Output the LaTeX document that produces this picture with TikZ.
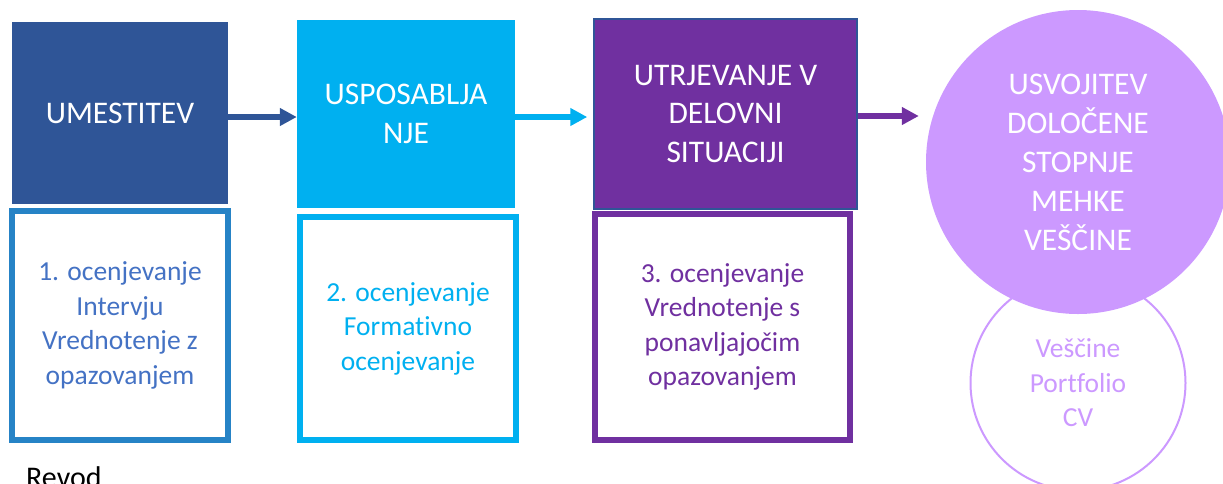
\documentclass[tikz,border=0pt]{standalone}
\usepackage{fontspec}
\setmainfont[Ligatures=NoCommon]{Carlito}
\usetikzlibrary{arrows.meta}
\definecolor{dkblue}{HTML}{2F5597}
\definecolor{cyanb}{HTML}{00B0F0}
\definecolor{purp}{HTML}{7030A0}
\definecolor{lilac}{HTML}{CC99FF}
\definecolor{midblue}{HTML}{2683C6}
\definecolor{txtblue}{HTML}{4472C4}
\begin{document}
\begin{tikzpicture}[x=1pt,y=-1pt,
  hdr/.style={rectangle, inner sep=0pt, text=white, align=center,
    font=\fontsize{31.5}{38.5}\selectfont},
  lowbox/.style={rectangle, draw, line width=6pt, fill=white, inner sep=0pt,
    align=center, font=\fontsize{27.5}{34.5}\selectfont},
  flow/.style={line width=6pt, -{Triangle[length=17pt,width=17pt]}}]
\useasboundingbox (0,0) rectangle (1223,483);
% top boxes
\node[hdr, fill=dkblue, minimum width=216pt, minimum height=182pt] (b1) at (120,113) {UMESTITEV};
\node[hdr, fill=cyanb, minimum width=218pt, minimum height=188pt] (b2) at (406,114) {USPOSABLJA\\NJE};
\node[hdr, fill=purp, draw=dkblue, line width=1.5pt, minimum width=263pt, minimum height=190pt] (b3) at (725.5,114) {UTRJEVANJE V\\DELOVNI\\SITUACIJI};
% circles
\node[circle, draw=lilac, line width=2pt, fill=white, minimum size=215pt, inner sep=0pt,
  text=lilac, align=center, font=\fontsize{27.5}{34.5}\selectfont] (small) at (1078,383) {Veščine\\Portfolio\\CV};
\node[circle, fill=lilac, minimum size=304pt, inner sep=0pt, text=white, align=center,
  font=\fontsize{31.5}{39}\selectfont] (big) at (1078,162) {USVOJITEV\\DOLOČENE\\STOPNJE\\MEHKE\\VEŠČINE};
% lower boxes
\node[lowbox, draw=midblue, text=txtblue, minimum width=216pt, minimum height=229pt] (l1) at (120,325.5)
  {1. ocenjevanje\\Intervju\\Vrednotenje z\\opazovanjem};
\node[lowbox, draw=cyanb, text=cyanb, minimum width=216pt, minimum height=223pt] (l2) at (408,328.5)
  {2. ocenjevanje\\Formativno\\ocenjevanje};
\node[lowbox, draw=purp, text=purp, minimum width=255pt, minimum height=226pt] (l3) at (722.5,327)
  {3. ocenjevanje\\Vrednotenje s\\ponavljajočim\\opazovanjem};
% arrows
\draw[flow, dkblue] ([yshift=-4pt]b1.east) -- ([yshift=-3pt]b2.west);
\draw[flow, cyanb, shorten >=6pt] ([yshift=-3pt]b2.east) -- ([yshift=-3pt]b3.west);
\coordinate (a3s) at ([yshift=-2pt]b3.east);
\draw[flow, purp, shorten >=7pt] (a3s) -- (a3s -| big.west);
% bottom text (cut by the lower edge, as in the reference)
\node[anchor=base west, inner sep=0pt, font=\fontsize{30}{36}\selectfont, text=black] (rev) at (26,487) {Revod};
\end{tikzpicture}
\end{document}
